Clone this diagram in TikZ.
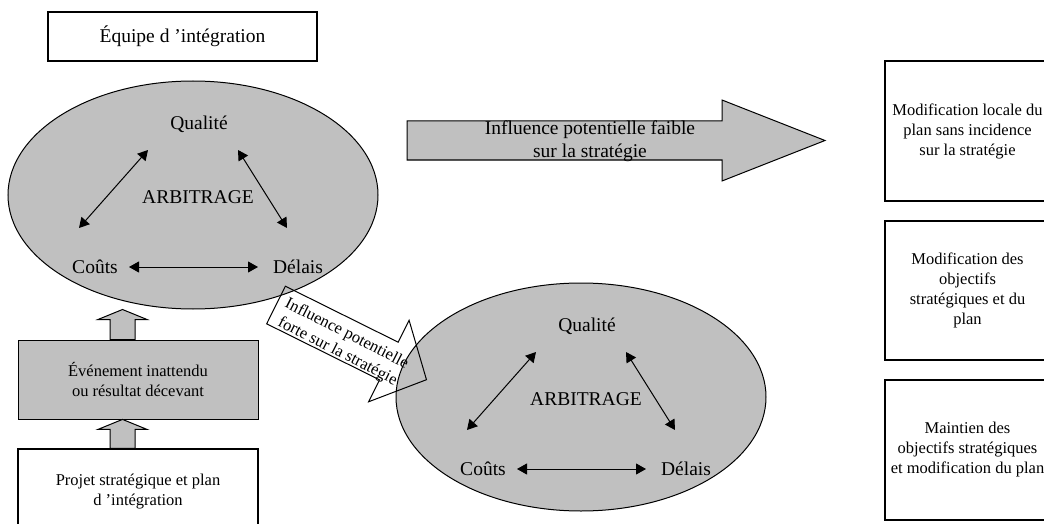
\documentclass[tikz,border=0pt]{standalone}
\usepackage{fontspec}
\setmainfont{Liberation Serif}
\usetikzlibrary{shapes.geometric,arrows.meta,calc}
\definecolor{panel}{HTML}{C0C0C0}
\begin{document}
\begin{tikzpicture}[x=1pt,y=-1pt,
  bigtxt/.style={font=\fontsize{19.5}{23}\selectfont, inner sep=0pt, align=center},
  smalltxt/.style={font=\fontsize{16.5}{20}\selectfont, inner sep=0pt, align=center},
  arbell/.style={ellipse, draw, fill=panel, line width=1pt, minimum width=370pt, minimum height=228pt, inner sep=0pt},
  link/.style={line width=1pt, {Triangle[length=10pt,width=11pt]}-{Triangle[length=10pt,width=11pt]}},
  frame/.style={draw, line width=1.2pt},
  block/.style={draw, fill=panel, line width=1pt, line join=miter},
  outline/.style={draw, line width=1pt, line join=miter}]
\useasboundingbox (0,0) rectangle (1044,524);

% the two trade-off ellipses (quality / cost / delay)
\foreach \s/\cx/\cy in {a/193/195, b/581/397}{
  \begin{scope}[shift={(\cx,\cy)}]
    \node[arbell] (ell\s) at (0,0) {};
    \node[bigtxt] (qual\s) at (6,-71) {Qualité};
    \node[bigtxt] (arb\s) at (5,2) {ARBITRAGE};
    \node[bigtxt] (cout\s) at (-98,72) {Coûts};
    \node[bigtxt] (del\s) at (105,72) {Délais};
    \coordinate (cq\s) at (-114,33);
    \coordinate (qc\s) at (-45,-45);
    \coordinate (qd\s) at (45,-45);
    \coordinate (dq\s) at (94,33);
    \coordinate (cd\s) at (-64,72);
    \coordinate (dc\s) at (65,72);
    \draw[link] (cq\s) -- (qc\s);
    \draw[link] (qd\s) -- (dq\s);
    \draw[link] (cd\s) -- (dc\s);
  \end{scope}
}

% team label
\node[frame, bigtxt, minimum width=269pt, minimum height=49pt] (team) at (182.5,36.5) {Équipe d ’intégration};

% weak influence: wide block arrow to the right
\draw[block] (407,121) -- (722,121) -- (722,100) -- (825,140.5) -- (722,181) -- (722,160) -- (407,160) -- cycle;
\node[bigtxt] (weak) at (590,141.5) {Influence potentielle faible\\sur la stratégie};

% left column: plan and unexpected event
\node[block, smalltxt, minimum width=240pt, minimum height=79pt] (event) at (138,379.5) {Événement inattendu\\ou résultat décevant};
\node[frame, smalltxt, minimum width=240pt, minimum height=86pt] (plan) at (138,492) {Projet stratégique et plan\\d ’intégration};

% upward block arrows
\draw[block] ($(event.north)+(-28,0)$) -- ++(0,-20) -- ++(-12,0) -- ++(24.5,-10) -- ++(24.5,10) -- ++(-12,0) -- ++(0,20) -- cycle;
\draw[block] ($(plan.north)+(-28,0)$) -- ++(0,-19) -- ++(-12,0) -- ++(24.5,-10) -- ++(24.5,10) -- ++(-12,0) -- ++(0,19) -- cycle;

% strong influence: tilted outline arrow between the ellipses
\begin{scope}[shift={(276,305)}, rotate=-26.4]
  \draw[outline] (0,-21) -- (126,-21) -- (126,-45.5) -- (168,0) -- (126,45.5) -- (126,21) -- (0,21) -- cycle;
\end{scope}
\node[smalltxt, rotate=-27] (strong) at (342,343) {Influence potentielle\\forte sur la stratégie};

% right column: possible outcomes
\node[frame, smalltxt, minimum width=165pt, minimum height=140pt] (out1) at (967.5,131) {Modification locale du\\plan sans incidence\\sur la stratégie};
\node[frame, smalltxt, minimum width=165pt, minimum height=139pt] (out2) at (967.5,290.5) {Modification des\\objectifs\\stratégiques et du\\plan};
\node[frame, smalltxt, minimum width=165pt, minimum height=140pt] (out3) at (967.5,450) {Maintien des\\objectifs stratégiques\\et modification du plan};
\end{tikzpicture}
\end{document}
